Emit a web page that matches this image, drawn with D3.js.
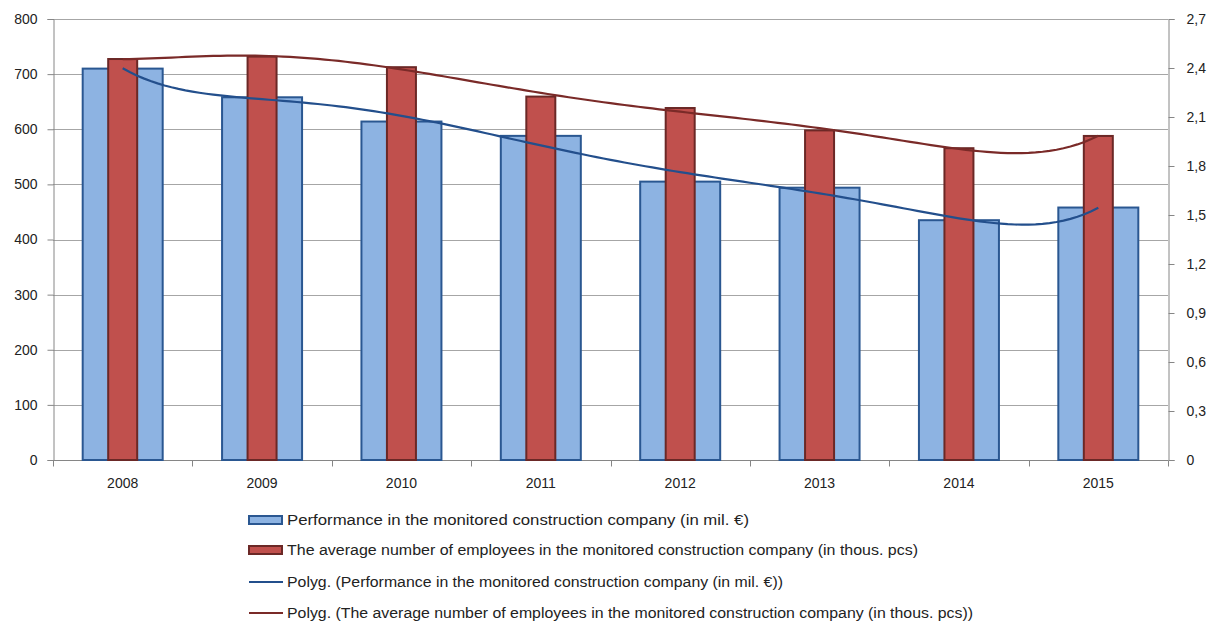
<!DOCTYPE html>
<html><head><meta charset="utf-8">
<script src="https://cdn.jsdelivr.net/npm/d3@7"></script>
<style>body{margin:0;background:#fff}svg{display:block}text{font-family:"Liberation Sans Narrow","Liberation Sans",sans-serif;fill:#222}</style>
</head><body><svg id="c" width="1214" height="623"></svg>
<script>
const years = ["2008","2009","2010","2011","2012","2013","2014","2015"];
const performance = [710, 658, 614, 588, 505, 494, 435, 458];
const employees = [2.455, 2.470, 2.405, 2.225, 2.155, 2.018, 1.909, 1.984];
const leftTicks = [0,100,200,300,400,500,600,700,800];
const rightTicks = [0,0.3,0.6,0.9,1.2,1.5,1.8,2.1,2.4,2.7];
const legendLabels = [
  "Performance in the monitored construction company (in mil. €)",
  "The average number of employees in the monitored construction company (in thous. pcs)",
  "Polyg. (Performance in the monitored construction company (in mil. €))",
  "Polyg. (The average number of employees in the monitored construction company (in thous. pcs))"
];
const trendOrder = 6;

const svg = d3.select("#c");
const L = 53, R = 1168, T = 19, B = 460;
const x = d3.scaleBand().domain(years).range([L, R]);
const yL = d3.scaleLinear().domain([0, 800]).range([B, T]);
const yR = d3.scaleLinear().domain([0, 2.7]).range([B, T]);

// gridlines
svg.append("g").selectAll("line").data(leftTicks.slice(1)).join("line")
  .attr("x1", L).attr("x2", R).attr("y1", d => Math.round(yL(d)) + 0.5).attr("y2", d => Math.round(yL(d)) + 0.5)
  .attr("stroke", "#a6a6a6").attr("stroke-width", 1);

// left axis
const gl = svg.append("g").attr("transform", `translate(${L + 0.5},0)`)
  .call(d3.axisLeft(yL).tickValues(leftTicks).tickSize(6).tickPadding(10));
// right axis
const gr = svg.append("g").attr("transform", `translate(${R + 0.5},0)`)
  .call(d3.axisRight(yR).tickValues(rightTicks).tickSize(6).tickPadding(12).tickFormat(d => d3.format(".1~f")(d).replace(".", ",")));
// bottom axis
const gb = svg.append("g").attr("transform", `translate(0,${B + 0.5})`)
  .call(d3.axisBottom(x).tickSize(0).tickPadding(18));
gb.selectAll(".tick line").remove();
gb.append("g").selectAll("line").data(d3.range(years.length + 1)).join("line")
  .attr("x1", i => Math.round(L + i * x.step()) + 0.5).attr("x2", i => Math.round(L + i * x.step()) + 0.5)
  .attr("y1", 0).attr("y2", 6).attr("stroke", "#868686");
[gl, gr, gb].forEach(g => {
  g.select(".domain").attr("stroke", "#868686");
  g.selectAll(".tick line").attr("stroke", "#868686");
  g.selectAll("text").attr("font-size", 14).attr("fill", "#222").style("font-family", "'Liberation Sans Narrow','Liberation Sans',sans-serif");
});
gb.select(".domain").attr("d", `M${L},0H${R}`);

const bw = 80, rw = 29;
// blue bars
svg.append("g").selectAll("rect").data(years).join("rect")
  .attr("x", (d) => x(d) + x.bandwidth() / 2 - bw / 2)
  .attr("y", (d, i) => yL(performance[i]))
  .attr("width", bw).attr("height", (d, i) => B - yL(performance[i]))
  .attr("fill", "#8db3e2").attr("stroke", "#2a5791").attr("stroke-width", 2);
// red bars
svg.append("g").selectAll("rect").data(years).join("rect")
  .attr("x", (d) => x(d) + x.bandwidth() / 2 - rw / 2)
  .attr("y", (d, i) => yR(employees[i]))
  .attr("width", rw).attr("height", (d, i) => B - yR(employees[i]))
  .attr("fill", "#c0504d").attr("stroke", "#6b2826").attr("stroke-width", 2);

// polynomial trendline (least squares)
function polyfit(ys, order) {
  const n = ys.length, xs = ys.map((_, i) => (i - (n - 1) / 2) / ((n - 1) / 2));
  const m = order + 1;
  const A = Array.from({length: m}, () => new Array(m + 1).fill(0));
  for (let k = 0; k < n; k++) {
    for (let r = 0; r < m; r++) {
      for (let c = 0; c < m; c++) A[r][c] += Math.pow(xs[k], r + c);
      A[r][m] += ys[k] * Math.pow(xs[k], r);
    }
  }
  for (let i = 0; i < m; i++) {
    let p = i; for (let r = i + 1; r < m; r++) if (Math.abs(A[r][i]) > Math.abs(A[p][i])) p = r;
    [A[i], A[p]] = [A[p], A[i]];
    for (let r = 0; r < m; r++) if (r !== i) { const f = A[r][i] / A[i][i]; for (let c = i; c <= m; c++) A[r][c] -= f * A[i][c]; }
  }
  const coef = A.map((row, i) => row[m] / row[i]);
  return t => { const u = (t - (n - 1) / 2) / ((n - 1) / 2); return coef.reduce((s, c, i) => s + c * Math.pow(u, i), 0); };
}
const samples = d3.range(0, 7.0001, 0.05);
const cx = t => x(years[0]) + x.bandwidth() / 2 + t * x.step();
const fB = polyfit(performance, trendOrder), fR = polyfit(employees, trendOrder);
svg.append("path").attr("d", d3.line().x(cx).y(t => yL(fB(t)))(samples))
  .attr("fill", "none").attr("stroke", "#234f8c").attr("stroke-width", 2.2);
svg.append("path").attr("d", d3.line().x(cx).y(t => yR(fR(t)))(samples))
  .attr("fill", "none").attr("stroke", "#7a2a28").attr("stroke-width", 2.2);

// legend
const ly = [520, 550, 582, 613];
const lw = [462, 631, 496, 686];
const lg = svg.append("g");
legendLabels.forEach((lab, i) => {
  const g = lg.append("g");
  if (i < 2) {
    g.append("rect").attr("x", 249).attr("y", ly[i] - 4).attr("width", 33).attr("height", 8)
      .attr("fill", i === 0 ? "#8db3e2" : "#c0504d").attr("stroke", i === 0 ? "#2a5791" : "#6b2826").attr("stroke-width", 2);
  } else {
    g.append("line").attr("x1", 249).attr("x2", 283).attr("y1", ly[i]).attr("y2", ly[i])
      .attr("stroke", i === 2 ? "#234f8c" : "#7a2a28").attr("stroke-width", 2.2);
  }
  g.append("text").attr("x", 287).attr("y", ly[i] + 5).attr("font-size", 14)
    .attr("textLength", lw[i]).attr("lengthAdjust", "spacingAndGlyphs").text(lab);
});
</script></body></html>
